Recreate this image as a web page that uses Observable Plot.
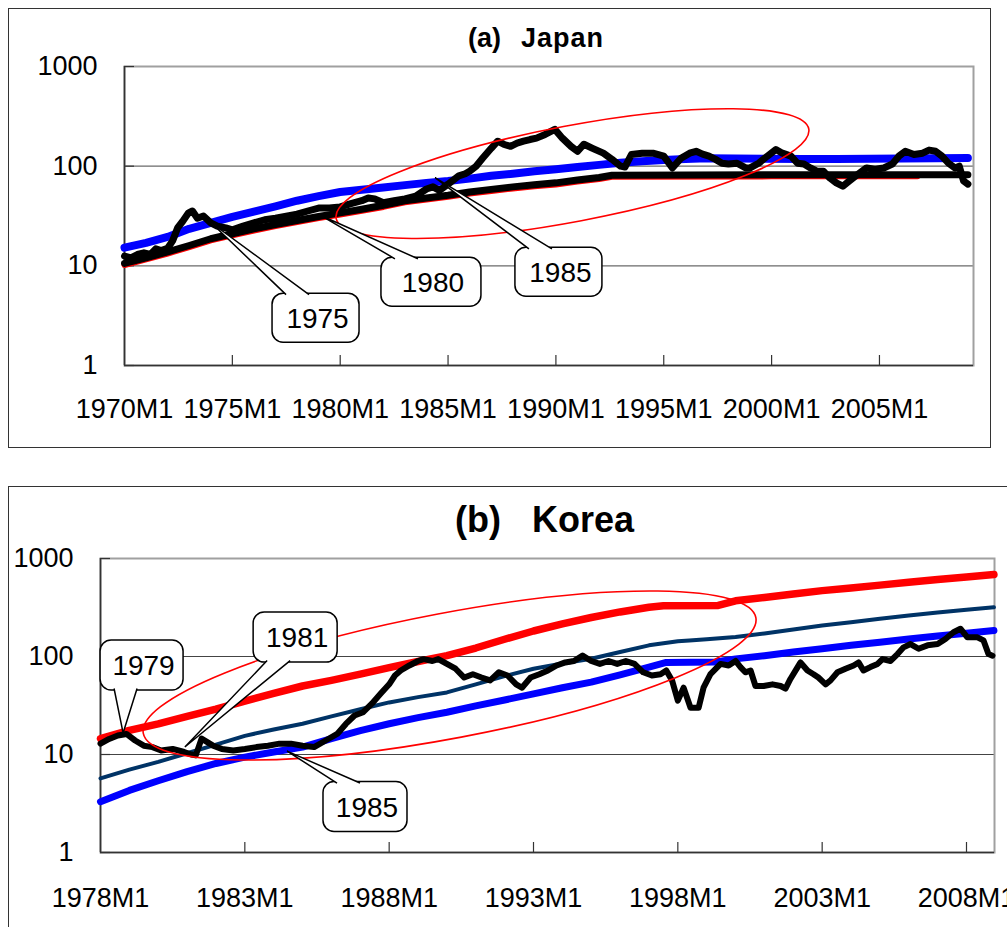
<!DOCTYPE html>
<html><head><meta charset="utf-8">
<script src="https://cdn.jsdelivr.net/npm/d3@7"></script>
<script src="https://cdn.jsdelivr.net/npm/@observablehq/plot@0.6"></script>
<style>
html,body{margin:0;padding:0;background:#fff;}
body{width:1007px;height:927px;overflow:hidden;position:relative;font-family:"Liberation Sans",Arial,sans-serif;}
.panel{position:absolute;box-sizing:border-box;border:1.5px solid #333;}
.chart{position:absolute;}
.title{position:absolute;font-weight:bold;line-height:1;white-space:pre;color:#000;font-family:"Liberation Sans",Arial,sans-serif;}
</style></head><body>
<div class="panel" style="left:8px;top:8px;width:983px;height:440px"></div>
<div class="panel" style="left:8px;top:486px;width:1030px;height:470px"></div>
<div id="jp" class="chart" style="left:8px;top:8px"></div>
<div id="kr" class="chart" style="left:8px;top:486px"></div>
<div class="title" style="left:468px;top:25px;font-size:27px">(a)</div>
<div class="title" style="left:521px;top:25px;font-size:27px;letter-spacing:1px">Japan</div>
<div class="title" style="left:455px;top:502px;font-size:36px">(b)</div>
<div class="title" style="left:532px;top:502px;font-size:36px">Korea</div>
<script>
// ---------- (a) Japan ----------
const jpTickYears = [1970, 1975, 1980, 1985, 1990, 1995, 2000, 2005];
const yTickValues = [1, 10, 100, 1000];

const jpStockYear = [1970.0,1970.3,1970.6,1970.9,1971.2,1971.45,1971.7,1972.0,1972.23,1972.46,1972.7,1972.97,1973.15,1973.38,1973.66,1974.0,1974.3,1974.7,1975.0,1975.5,1976.0,1976.5,1977.0,1977.5,1978.0,1978.5,1979.0,1979.5,1980.0,1980.5,1981.0,1981.3,1981.6,1982.0,1982.5,1983.0,1983.5,1984.0,1984.3,1984.6,1985.0,1985.5,1985.8,1986.0,1986.3,1986.6,1987.0,1987.3,1987.6,1987.9,1988.2,1988.5,1988.8,1989.1,1989.5,1989.95,1990.3,1990.7,1991.0,1991.3,1991.7,1992.2,1992.6,1993.0,1993.2,1993.5,1994.0,1994.5,1995.0,1995.4,1995.8,1996.2,1996.5,1996.8,1997.1,1997.4,1997.7,1998.0,1998.4,1998.8,1999.0,1999.4,1999.8,2000.2,2000.5,2000.9,2001.2,2001.5,2001.8,2002.1,2002.4,2002.7,2003.0,2003.3,2003.6,2004.0,2004.4,2004.8,2005.2,2005.6,2005.9,2006.2,2006.6,2007.0,2007.3,2007.6,2007.9,2008.2,2008.5,2008.7,2008.9,2009.1];
const jpStockValue = [12.5,12,13,13.5,13,14.8,14.2,15,17.8,24,28,34,35.5,30,31.6,27,25,24,23,25,27,29,30,31.5,33,35.5,38,38,39,42,45,48,47,43,45,47,50,59,62,57,66,80,84,89,100,120,151,178,165,158,170,178,185,191,208,234,191,158,141,166,151,135,117,100,98,131,135,135,126,96,120,135,141,132,126,117,107,105,107,96,96,107,126,147,135,126,107,105,96,89,89,76,68,63,71,83,96,93,96,105,126,141,131,135,145,141,126,107,96,100,71,66];

const jpBlueYear = [1970,1971,1972,1973,1974,1975,1976,1977,1978,1979,1980,1981,1982,1983,1984,1985,1986,1987,1988,1989,1990,1991,1992,1993,1994,1995,1996,1997,2001.5,2003,2009.1];
const jpBlueValue = [15.2,17,19.5,23.5,27,31,35,39.5,45,50,55,58,61,64.5,68,71,75,80,84,89,93,98,103,108,112,115,118,120,118,118,121];

const jpTrendYear = [1970,1971,1972,1973,1974,1975,1976,1977,1978,1979,1980,1981,1982,1983,1984,1985,1986,1987,1988,1989,1990,1991,1992,1992.6,2000,2009.1];
const jpTrendValue = [10.6,12,13.8,16,18.7,21,23.5,26,28.5,31.3,34,37,40.5,45,48,51,55,58.5,62,65,68,72.5,77,81,82,82];

const jpRedYear = [1970,1971,1972,1973,1974,1975,1976,1977,1978,1979,1980,1981,1982,1983,1984,1985,1986,1987,1988,1989,1990,1991,1992,1992.6,2000,2006.76];
const jpRedValue = [10.2,11.6,13.3,15.4,18,20.2,22.6,25,27.5,30.2,32.8,35.7,39,43.4,46.3,49.2,53,56.4,59.8,62.7,65.6,70,74.3,78.1,79,79];

const jpEllipse = {year: 1990.79, value: 83.2};
const jpCallLabel = ["1975", "1980", "1985"];
const jpCallTipYear = [1974.03, 1979.13, 1984.42];
const jpCallTipValue = [26.9, 31.6, 75.9];
const jpCallBoxYear = [1978.88, 1984.23, 1990.14];
const jpCallBoxValue = [2.985, 6.84, 8.61];

// ---------- (b) Korea ----------
const krTickYears = [1978, 1983, 1988, 1993, 1998, 2003, 2008];

const krStockYear = [1978.0,1978.3,1978.6,1978.9,1979.2,1979.5,1979.8,1980.1,1980.5,1980.9,1981.15,1981.3,1981.5,1981.9,1982.2,1982.6,1983.0,1983.4,1983.8,1984.2,1984.6,1985.0,1985.4,1985.8,1986.2,1986.5,1986.8,1987.1,1987.4,1987.7,1988.0,1988.2,1988.4,1988.7,1989.0,1989.2,1989.5,1989.7,1990.0,1990.3,1990.6,1990.9,1991.2,1991.5,1991.8,1992.1,1992.4,1992.6,1992.9,1993.2,1993.5,1993.8,1994.1,1994.4,1994.7,1995.0,1995.3,1995.6,1995.9,1996.2,1996.5,1996.8,1997.1,1997.4,1997.6,1997.8,1998.0,1998.2,1998.44,1998.72,1998.89,1999.13,1999.48,1999.76,2000.0,2000.17,2000.34,2000.52,2000.69,2000.97,2001.28,2001.56,2001.73,2001.9,2002.15,2002.25,2002.49,2002.7,2002.87,2003.12,2003.29,2003.53,2003.81,2004.09,2004.26,2004.43,2004.67,2004.92,2005.09,2005.37,2005.61,2005.82,2006.06,2006.34,2006.65,2007.0,2007.27,2007.55,2007.79,2008.03,2008.38,2008.59,2008.76,2008.9];
const krStockValue = [12.9,14.4,15.6,16.2,13.9,12.3,11.9,11.0,11.4,10.6,10.0,9.8,14.5,12.3,11.4,11.0,11.4,11.9,12.3,12.9,12.9,12.3,11.9,13.9,16.2,20.5,25,27,33,41.6,52,64,72,81,90,94,90,94,84,75,61,66,61,57,69,64,52,48,61,66,72,81,87,90,102,90,84,90,84,90,84,69,64,66,72,57,35.5,48,30,30,48,66,84,81,90,78,69,72,50,50,52,50,47,59,78,87,72,66,61,52,57,69,75,81,87,72,78,84,94,90,106,124,134,120,130,134,151,177,192,157,157,146,106,102];

const krRedYear = [1978,1979,1980,1981,1982,1983,1984,1985,1986,1987,1988,1989,1990,1991,1992,1993,1994,1995,1996,1997,1997.5,1999.4,2000,2001,2002,2003,2004,2005,2006,2007,2008,2008.95];
const krRedValue = [14.5,17.6,20.5,24.5,29,35,42,50,57,66,77,89,102,122,150,182,215,250,285,318,330,332,370,400,435,470,500,535,572,610,648,685];

const krNavyYear = [1978,1979,1980,1981,1982,1983,1984,1985,1986,1987,1988,1989,1990,1991,1992,1993,1994,1995,1996,1997,1998,1998.4,1999,2000,2001,2002,2003,2004,2005,2006,2007,2008,2008.95];
const krNavyValue = [5.7,7,8.4,10.3,12.6,15.5,18,20.6,24.5,29,34,38.5,43,52,63,75,85,95,111,130,143,146,150,158,172,189,207,224,243,262,281,300,318];

const krBlueYear = [1978,1979,1980,1981,1982,1983,1984,1985,1986,1987,1988,1989,1990,1991,1992,1993,1994,1995,1996,1997,1997.6,1999.3,2000,2001,2002,2003,2004,2005,2006,2007,2008,2008.95];
const krBlueValue = [3.3,4.3,5.4,6.7,8.1,9.4,10.6,11.9,14.5,17.5,20.6,23.8,27,31.3,36,41.6,48,54.7,65,78,87,88,94.6,102,111,120,130,140,151,162,173,184];

const krEllipse = {year: 1990.11, value: 63.2};
const krCallLabel = ["1979", "1981", "1985"];
const krCallTipYear = [1978.80, 1980.94, 1984.48];
const krCallTipValue = [16.4, 11.8, 10.7];
const krCallBoxYear = [1979.44, 1984.76, 1987.18];
const krCallBoxValue = [80.9, 156, 2.91];

// ---------- helpers ----------
const series = (xs, vs) => xs.map((x, i) => ({year: x, value: vs[i]}));
const callouts = (lab, tx, tv, bx, bv) => lab.map((l, i) => ({label: l, tipYear: tx[i], tipValue: tv[i], boxYear: bx[i], boxValue: bv[i]}));

function annotate(ell, ellStyle, calls, boxW, boxH) {
  return (index, scales) => {
    const X = scales.x, Y = scales.y;
    const g = d3.create("svg:g");
    const cx = X(ell.year), cy = Y(ell.value);
    g.append("ellipse").attr("cx", cx).attr("cy", cy)
      .attr("rx", ellStyle.rx).attr("ry", ellStyle.ry)
      .attr("transform", `rotate(${ellStyle.angle} ${cx} ${cy})`)
      .attr("fill", "none").attr("stroke", "#ff0000").attr("stroke-width", 1.6);
    calls.forEach((c, i) => {
      const bx = X(c.boxYear), by = Y(c.boxValue);
      const tx = X(c.tipYear), ty = Y(c.tipValue);
      const w = boxW[i], h = boxH, left = bx - w / 2, top = by - h / 2;
      const up = ty < top;
      const edge = up ? top + 1.5 : top + h - 1.5;
      g.append("rect").attr("x", left).attr("y", top).attr("width", w).attr("height", h)
        .attr("rx", 11).attr("fill", "white").attr("stroke", "#000").attr("stroke-width", 1.5);
      g.append("path").attr("d", `M${left + 14},${edge}L${tx},${ty}L${left + 37},${edge}`)
        .attr("fill", "white").attr("stroke", "#000").attr("stroke-width", 1.5);
      g.append("text").attr("x", bx + 2).attr("y", by).attr("dy", "0.36em")
        .attr("text-anchor", "middle").attr("font-size", 28).attr("fill", "#000")
        .attr("font-family", "Liberation Sans, Arial, sans-serif").text(c.label);
    });
    return g.node();
  };
}

const baseStyle = {fontFamily: "Liberation Sans, Arial, sans-serif", fontSize: "27px", color: "#000", background: "none", maxWidth: "none", overflow: "visible"};

function axes(ticks, x0, labelPad) {
  return [
    Plot.axisX({ticks, tickFormat: d => d + "M1", tickSize: 0, tickPadding: labelPad, label: null}),
    Plot.axisX({ticks: ticks.filter(t => t !== x0), tickFormat: () => "", tickSize: -10, stroke: "#333", strokeWidth: 1.2, label: null}),
    Plot.axisY({ticks: yTickValues, tickFormat: d => String(d), tickSize: 0, tickPadding: 27, label: null}),
    Plot.axisY({ticks: yTickValues, tickFormat: () => "", tickSize: -10, stroke: "#333", strokeWidth: 1.2, label: null})
  ];
}

// ---------- Japan chart ----------
const jpChart = Plot.plot({
  width: 983, height: 440,
  marginLeft: 116, marginRight: 18, marginTop: 58, marginBottom: 83,
  style: baseStyle,
  x: {domain: [1970, 2009.36]},
  y: {type: "log", domain: [1, 1000]},
  marks: [
    Plot.ruleY([10, 100], {stroke: "#6a6a6a", strokeWidth: 1.2}),
    Plot.frame({stroke: "#a0a0a0", strokeWidth: 2}),
    Plot.ruleX([1970], {stroke: "#333", strokeWidth: 1.6}),
    Plot.ruleY([1], {stroke: "#333", strokeWidth: 1.6}),
    ...axes(jpTickYears, 1970, 33),
    Plot.line(series(jpRedYear, jpRedValue), {x: "year", y: "value", stroke: "#ff0000", strokeWidth: 6}),
    Plot.line(series(jpTrendYear, jpTrendValue), {x: "year", y: "value", stroke: "#000", strokeWidth: 7}),
    Plot.line(series(jpBlueYear, jpBlueValue), {x: "year", y: "value", stroke: "#0000ff", strokeWidth: 8}),
    Plot.line(series(jpStockYear, jpStockValue), {x: "year", y: "value", stroke: "#000", strokeWidth: 7, strokeLinejoin: "round"}),
    annotate(jpEllipse, {rx: 240.5, ry: 47.9, angle: -10.7},
      callouts(jpCallLabel, jpCallTipYear, jpCallTipValue, jpCallBoxYear, jpCallBoxValue), [87, 100, 87], 49)
  ]
});
document.getElementById("jp").appendChild(jpChart);

// ---------- Korea chart ----------
const krChart = Plot.plot({
  width: 999, height: 441,
  marginLeft: 92, marginRight: 13, marginTop: 72, marginBottom: 75,
  style: baseStyle,
  x: {domain: [1978, 2008.97]},
  y: {type: "log", domain: [1, 1000]},
  marks: [
    Plot.ruleY([10, 100], {stroke: "#444", strokeWidth: 1.2}),
    Plot.frame({stroke: "#a0a0a0", strokeWidth: 2}),
    Plot.ruleX([1978], {stroke: "#333", strokeWidth: 1.6}),
    Plot.ruleY([1], {stroke: "#333", strokeWidth: 1.6}),
    ...axes(krTickYears, 1978, 35),
    Plot.line(series(krBlueYear, krBlueValue), {x: "year", y: "value", stroke: "#0000ff", strokeWidth: 7}),
    Plot.line(series(krNavyYear, krNavyValue), {x: "year", y: "value", stroke: "#003366", strokeWidth: 4}),
    Plot.line(series(krRedYear, krRedValue), {x: "year", y: "value", stroke: "#ff0000", strokeWidth: 7.5}),
    Plot.line(series(krStockYear, krStockValue), {x: "year", y: "value", stroke: "#000", strokeWidth: 6, strokeLinejoin: "round"}),
    annotate(krEllipse, {rx: 311.7, ry: 62.7, angle: -10.7},
      callouts(krCallLabel, krCallTipYear, krCallTipValue, krCallBoxYear, krCallBoxValue), [83, 84, 84], 50)
  ]
});
document.getElementById("kr").appendChild(krChart);
</script>
</body></html>
